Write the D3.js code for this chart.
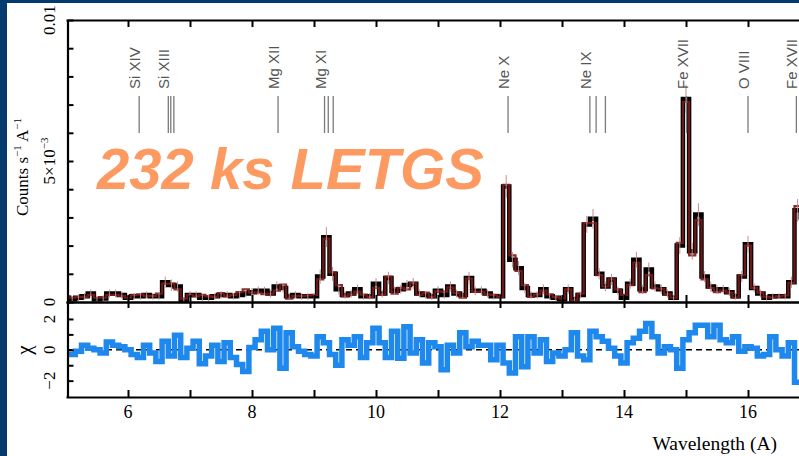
<!DOCTYPE html>
<html>
<head>
<meta charset="utf-8">
<script src="https://cdn.jsdelivr.net/npm/d3@7"></script>
<style>
  body { margin: 0; background: #fff; }
  svg { display: block; }
</style>
</head>
<body>
<svg id="chart"></svg>
<script>
// LETGS spectrum, 0.1 A bins centred on 5.0 ... 16.9
var binStart = 5.0, binWidth = 0.1, nBins = 120;

// data, counts s-1 A-1 in units of 1e-3
var counts = [
  .15, .1, .15, .2, .3, .1, .12, .3, .3, .25,
  .15, .2, .2, .25, .2, .2, .7, .6, .55, .05,
  .25, .25, .15, .15, .2, .25, .25, .2, .25, .3,
  .35, .4, .4, .3, .55, .5, .2, .25, .2, .2,
  .2, .9, 2.3, 1.0, .45, .25, .3, .45, .2, .2,
  .65, .3, .85, .4, .45, .6, .65, .3, .25, .2,
  .4, .25, .55, .3, .25, .85, .4, .4, .3, .2,
  .2, 4.1, 1.5, 1.2, .5, .25, .25, .45, .2, .15,
  .1, .45, .1, .25, 2.75, 2.95, 1.0, .55, .8, .4,
  .15, .65, 1.5, .45, 1.15, .55, .45, .3, .15, 2.0,
  7.2, 1.8, 3.1, .9, .55, .45, .45, .35, .2, .9,
  2.05, .5, .3, .15, .2, .2, .2, .7, 3.25, 3.0
];

// model, same units
var model = [
  .2, .15, .17, .18, .25, .15, .15, .25, .25, .22,
  .15, .25, .27, .22, .22, .3, .65, .65, .45, .12,
  .25, .2, .25, .2, .18, .32, .2, .25, .35, .45,
  .33, .33, .28, .3, .4, .62, .12, .22, .22, .23,
  .25, .8, 2.25, 1.05, .6, .2, .27, .37, .26, .17,
  .5, .26, .9, .3, .5, .45, .67, .25, .33, .17,
  .38, .37, .52, .32, .15, .83, .36, .37, .27, .25,
  .18, 4.15, 1.65, 1.1, .6, .18, .27, .4, .27, .17,
  .13, .45, .05, .3, 2.8, 2.8, .95, .55, .8, .45,
  .25, .6, 1.4, .35, .95, .48, .47, .28, .15, 2.1,
  7.1, 1.65, 2.9, .8, .5, .35, .4, .33, .15, .95,
  2.0, .5, .33, .17, .15, .2, .23, .68, 3.4, 3.1
];

// 1 sigma errors
var errs = [
  .12, .12, .12, .12, .14, .12, .12, .14, .14, .13,
  .12, .12, .12, .13, .12, .12, .2, .2, .18, .1,
  .13, .13, .12, .12, .12, .13, .13, .12, .13, .14,
  .15, .15, .15, .14, .18, .17, .12, .13, .12, .12,
  .12, .25, .35, .25, .18, .13, .14, .17, .12, .12,
  .2, .14, .22, .15, .16, .18, .2, .14, .13, .12,
  .16, .13, .18, .14, .13, .22, .16, .16, .14, .12,
  .12, .4, .28, .25, .18, .13, .13, .17, .12, .1,
  .1, .17, .1, .12, .3, .35, .2, .18, .2, .15,
  .1, .18, .28, .16, .25, .18, .16, .14, .1, .3,
  .5, .3, .4, .2, .18, .16, .16, .14, .12, .2,
  .3, .16, .14, .1, .11, .11, .11, .2, .4, .35
];

// residuals
var chi = [
  -.3, -.3, -.1, .3, .1, 0, -.2, .5, .3, .2,
  0, -.3, -.5, .3, -.2, -.75, .55, -.4, .95, -.5,
  .1, .55, -.9, -.4, .3, -.75, .45, -.5, -.95, -1.4,
  .15, .65, 1.2, 0, 1.4, -1.2, 1.1, .2, -.1, -.3,
  -.4, .85, .45, -.3, -1.0, .65, .3, .85, -.5, .45,
  1.4, .45, -.5, 1.2, -.55, 1.5, -.2, .65, -.85, .45,
  .2, -1.3, .3, -.2, 1.1, .2, .55, .3, .3, -.65,
  .3, -.85, -1.5, .85, -1.1, .85, -.2, .65, -.75, -.2,
  -.4, 0, 1.1, -.4, -.65, 1.2, .85, .55, .1, -.4,
  -.85, .45, .75, 1.2, 1.7, .85, -.2, .2, 0, -1.2,
  .65, 1.1, 1.6, 1.6, .85, 1.6, .65, .45, .85, -.1,
  .2, .1, -.4, -.3, .85, 0, -.4, .45, -2.1, -2.1
];

// line identifications
var lineNames = ["Si XIV", "Si XIII", "Mg XII", "Mg XI", "Ne X", "Ne IX", "Fe XVII", "O VIII", "Fe XVII"];
var lineWaves = [[6.18], [6.65, 6.69, 6.74], [8.42], [9.17, 9.23, 9.31], [12.13], [13.45, 13.55, 13.70], [15.01], [16.0], [16.78]];

var xTicks = [6, 7, 8, 9, 10, 11, 12, 13, 14, 15, 16];
var xLabels = [6, 8, 10, 12, 14, 16];
var yTickVals = [0, 5, 10];
var chiTickVals = [-2, 0, 2];

var width = 799, height = 456;
var svg = d3.select("#chart").attr("width", width).attr("height", height);

// dark blue slide frame
svg.append("rect").attr("width", width).attr("height", height).attr("fill", "#053a6e");
svg.append("rect").attr("x", 7).attr("y", 3).attr("width", width - 7).attr("height", height - 3).attr("fill", "#fff");

var x = d3.scaleLinear().domain([5, 17]).range([66, 810]);
var y = d3.scaleLinear().domain([0, 10]).range([302, 20]);
var yc = d3.scaleLinear().domain([-3.06, 3.1]).range([397, 302]);

var bins = d3.range(nBins).map(i => binStart + i * binWidth);

function steps(vals) {
  var pts = [];
  bins.forEach((c, i) => {
    pts.push([c - binWidth / 2, vals[i]]);
    pts.push([c + binWidth / 2, vals[i]]);
  });
  return pts;
}

var defs = svg.append("defs");
defs.append("clipPath").attr("id", "clipTop").append("rect")
  .attr("x", 68).attr("y", 20).attr("width", 740).attr("height", 283);
defs.append("clipPath").attr("id", "clipBot").append("rect")
  .attr("x", 68).attr("y", 302).attr("width", 740).attr("height", 95);

// upper panel
var upper = svg.append("g").attr("clip-path", "url(#clipTop)");
var lineTop = d3.line().x(d => x(d[0])).y(d => y(d[1]));

upper.append("path").datum(steps(counts))
  .attr("d", lineTop).attr("fill", "none")
  .attr("stroke", "#000").attr("stroke-width", 4.5).attr("stroke-linejoin", "miter");

upper.append("path").datum(steps(model))
  .attr("d", lineTop).attr("fill", "none")
  .attr("stroke", "#7a1a1a").attr("stroke-width", 2.2).attr("opacity", 0.9);

upper.selectAll(".err").data(bins).join("line")
  .attr("x1", d => x(d)).attr("x2", d => x(d))
  .attr("y1", (d, i) => y(counts[i] - errs[i]))
  .attr("y2", (d, i) => y(counts[i] + errs[i]))
  .attr("stroke", "#c98a8a").attr("stroke-width", 1);

// lower panel
var lower = svg.append("g").attr("clip-path", "url(#clipBot)");
lower.append("line")
  .attr("x1", x(5)).attr("x2", 799).attr("y1", yc(0)).attr("y2", yc(0))
  .attr("stroke", "#000").attr("stroke-width", 1.5).attr("stroke-dasharray", "6,4");
lower.append("path").datum(steps(chi))
  .attr("d", d3.line().x(d => x(d[0])).y(d => yc(d[1])))
  .attr("fill", "none").attr("stroke", "#1e88ec").attr("stroke-width", 5.5);

// axes, ticks pointing inward
function styleAxis(g) {
  g.selectAll("path").attr("stroke", "#000").attr("stroke-width", 2.2);
  g.selectAll("line").attr("stroke", "#000").attr("stroke-width", 2);
  g.selectAll("text").remove();
}
svg.append("g").attr("transform", "translate(0,20)")
  .call(d3.axisTop(x).tickValues(xTicks).tickSize(-7).tickSizeOuter(0)).call(styleAxis);
svg.append("g").attr("transform", "translate(0,302)")
  .call(d3.axisBottom(x).tickValues(xTicks).tickSize(-7).tickSizeOuter(0)).call(styleAxis);
svg.append("g").attr("transform", "translate(0,302)")
  .call(d3.axisTop(x).tickValues(xTicks).tickSize(-6).tickSizeOuter(0)).call(styleAxis);
svg.append("g").attr("transform", "translate(0,397)")
  .call(d3.axisBottom(x).tickValues(xTicks).tickSize(-7).tickSizeOuter(0)).call(styleAxis);
svg.append("g").attr("transform", "translate(67.5,0)")
  .call(d3.axisLeft(y).tickValues(d3.range(0, 11)).tickSize(-6).tickSizeOuter(0)).call(styleAxis);
svg.append("g").attr("transform", "translate(67.5,0)")
  .call(d3.axisLeft(yc).tickValues([-2, -1, 0, 1, 2]).tickSize(-6).tickSizeOuter(0)).call(styleAxis);

var serif = "'Liberation Serif', 'Times New Roman', serif";

// x tick labels
svg.selectAll(".xl").data(xLabels).join("text")
  .attr("x", d => x(d)).attr("y", 418)
  .attr("text-anchor", "middle").attr("font-family", serif).attr("font-size", 18)
  .text(d => d);

// rotated y tick labels
var yl = svg.selectAll(".yl").data(yTickVals).join("text")
  .attr("transform", d => "translate(55," + y(d) + ") rotate(-90)")
  .attr("text-anchor", "middle").attr("font-family", serif).attr("font-size", 17);
yl.filter(d => d === 0).text("0");
yl.filter(d => d === 10).text("0.01");
var mid = yl.filter(d => d === 5);
mid.append("tspan").text("5×10");
mid.append("tspan").attr("dy", -7).attr("font-size", 11).text("−3");

svg.selectAll(".cl").data(chiTickVals).join("text")
  .attr("transform", d => "translate(55," + yc(d) + ") rotate(-90)")
  .attr("text-anchor", "middle").attr("font-family", serif).attr("font-size", 17)
  .text(d => d < 0 ? "−" + Math.abs(d) : d);

// axis titles
var yt = svg.append("text")
  .attr("transform", "translate(28,167) rotate(-90)")
  .attr("text-anchor", "middle").attr("font-family", serif).attr("font-size", 17);
yt.append("tspan").text("Counts s");
yt.append("tspan").attr("dy", -7).attr("font-size", 11).text("−1");
yt.append("tspan").attr("dy", 7).text(" A");
yt.append("tspan").attr("dy", -7).attr("font-size", 11).text("−1");

svg.append("text")
  .attr("transform", "translate(31,350) rotate(-90)")
  .attr("text-anchor", "middle").attr("font-family", serif).attr("font-size", 21)
  .text("χ");

svg.append("text")
  .attr("x", 777).attr("y", 450).attr("text-anchor", "end")
  .attr("font-family", serif).attr("font-size", 19.5)
  .text("Wavelength (A)");

// line markers
lineWaves.forEach((ws, k) => {
  ws.forEach(w => {
    svg.append("line")
      .attr("x1", x(w)).attr("x2", x(w)).attr("y1", 96).attr("y2", 133)
      .attr("stroke", "#7a7a7a").attr("stroke-width", 1.3);
  });
  svg.append("text")
    .attr("transform", "translate(" + (x(ws[0]) + 1) + ",89) rotate(-90)")
    .attr("font-family", "'Liberation Sans', Arial, sans-serif").attr("font-size", 15)
    .attr("fill", "#555")
    .text(lineNames[k]);
});

// overlay title
svg.append("text")
  .attr("x", 97).attr("y", 189)
  .attr("font-family", "'Liberation Sans', Arial, sans-serif")
  .attr("font-size", 58).attr("font-weight", "bold").attr("font-style", "italic")
  .attr("fill", "#fd9a62")
  .text("232 ks LETGS");
</script>
</body>
</html>
